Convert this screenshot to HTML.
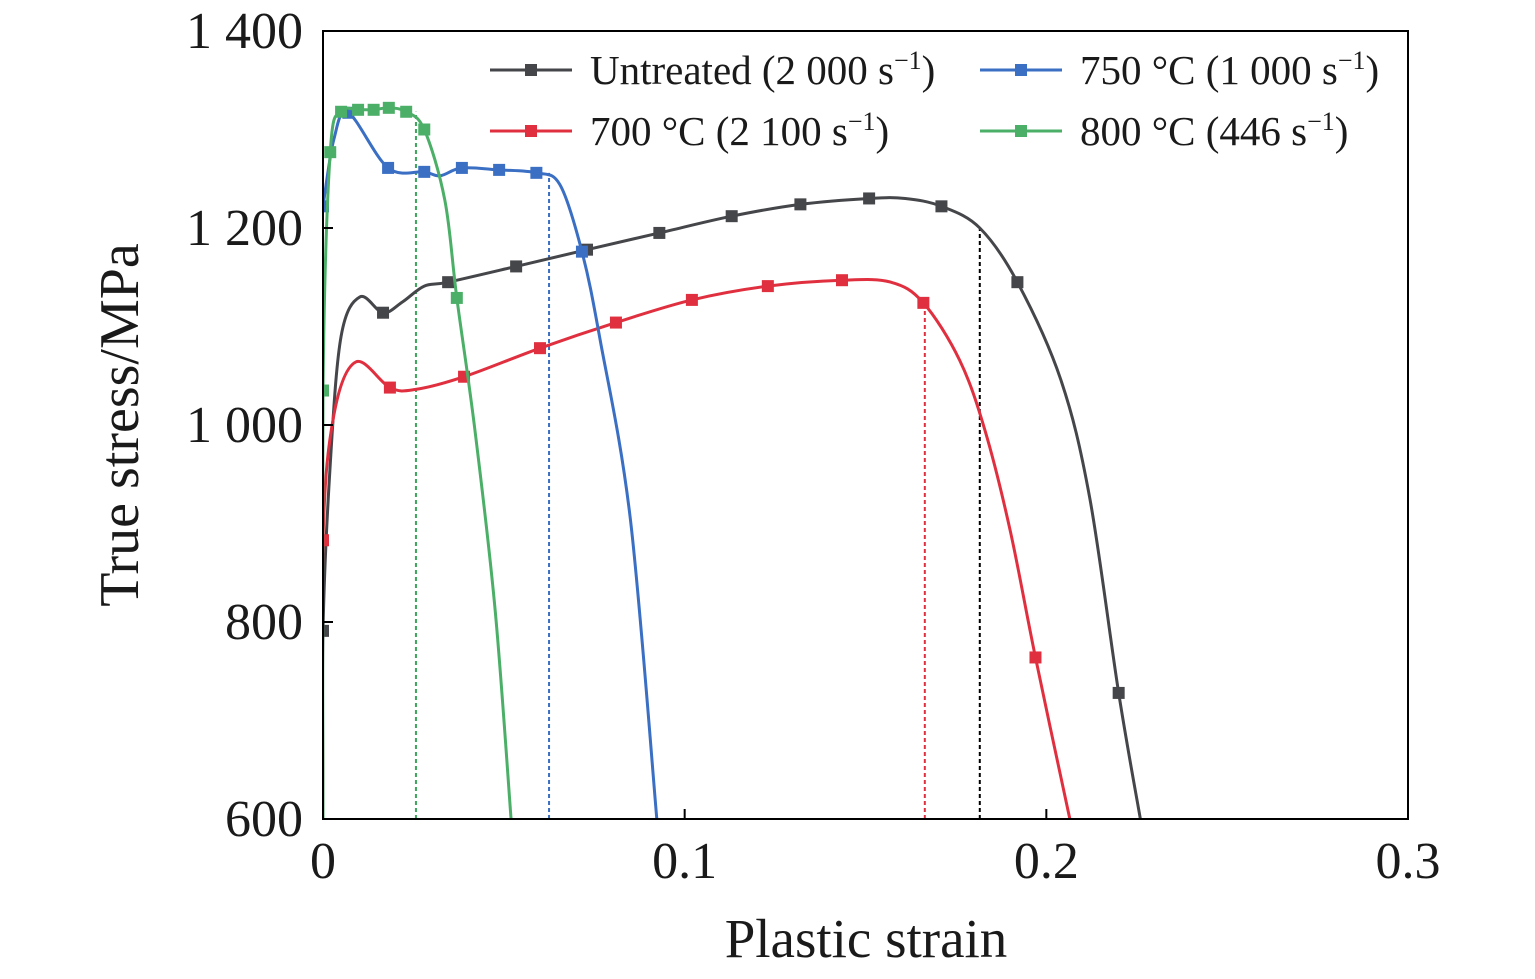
<!DOCTYPE html>
<html><head><meta charset="utf-8"><style>
body{margin:0;background:#fff}
svg text{font-family:"Liberation Serif",serif;fill:#1a1a1a}
</style></head><body>
<svg id="chart" width="1535" height="974" xmlns="http://www.w3.org/2000/svg"></svg>
<script>
const xTicks=[0,0.1,0.2,0.3];
const xTickLabels=["0","0.1","0.2","0.3"];
const yTicks=[600,800,1000,1200,1400];
const yTickLabels=["600","800","1 000","1 200","1 400"];
const untreatedLine=[[0,600],[0,791],[0.002,960],[0.005,1090],[0.0102,1130],[0.0166,1114],[0.022,1125],[0.028,1141],[0.0346,1145],[0.0534,1161],[0.073,1178],[0.093,1195],[0.113,1212],[0.132,1224],[0.151,1230],[0.161,1230],[0.171,1222],[0.1816,1200],[0.192,1145],[0.204,1046],[0.212,926],[0.220,728],[0.226,600]];
const untreatedMarks=[[0,791],[0.0166,1114],[0.0346,1145],[0.0534,1161],[0.073,1178],[0.093,1195],[0.113,1212],[0.132,1224],[0.151,1230],[0.171,1222],[0.192,1145],[0.220,728]];
const red700Line=[[0,600],[0,883],[0.003,1010],[0.0091,1064],[0.0185,1038],[0.0254,1036],[0.039,1049],[0.060,1078],[0.081,1104],[0.102,1127],[0.123,1141],[0.1435,1147],[0.157,1145],[0.166,1124],[0.176,1066],[0.183,995],[0.190,893],[0.197,764],[0.2065,600]];
const red700Marks=[[0,883],[0.0185,1038],[0.039,1049],[0.060,1078],[0.081,1104],[0.102,1127],[0.123,1141],[0.1435,1147],[0.166,1124],[0.197,764]];
const blue750Line=[[0,1222],[0.003,1290],[0.007,1317],[0.018,1261],[0.028,1257],[0.0324,1253],[0.0384,1261],[0.0487,1259],[0.059,1256],[0.0655,1244],[0.0716,1176],[0.0766,1087],[0.085,904],[0.0923,600]];
const blue750Marks=[[0,1222],[0.007,1317],[0.018,1261],[0.028,1257],[0.0384,1261],[0.0487,1259],[0.059,1256],[0.0716,1176]];
const green800Line=[[0,600],[0,1035],[0.002,1277],[0.005,1318],[0.0097,1320],[0.014,1320],[0.0182,1322],[0.023,1318],[0.028,1300],[0.0337,1228],[0.037,1129],[0.042,995],[0.0476,812],[0.052,600]];
const green800Marks=[[0,1035],[0.002,1277],[0.005,1318],[0.0097,1320],[0.014,1320],[0.0182,1322],[0.023,1318],[0.028,1300],[0.037,1129]];
const dashX=[0.1816,0.1664,0.0625,0.0257];
const dashY=[1200,1124,1256,1318];
const seriesNames=["Untreated (2 000 s","750 °C (1 000 s","700 °C (2 100 s","800 °C (446 s"];

const L=323,R=1408,T=31,B=819;
const sx=v=>L+(v-0)/0.3*(R-L);
const sy=v=>B-(v-600)/800*(B-T);
const svg=document.getElementById('chart');
const NS='http://www.w3.org/2000/svg';
function mk(tag,attrs,parent){const e=document.createElementNS(NS,tag);for(const k in attrs)e.setAttribute(k,attrs[k]);(parent||svg).appendChild(e);return e;}
function smooth(pts){
  const p=pts.map(d=>[sx(d[0]),sy(d[1])]);
  let d='M'+p[0][0]+','+p[0][1];
  for(let i=0;i<p.length-1;i++){
    const p0=p[Math.max(0,i-1)],p1=p[i],p2=p[i+1],p3=p[Math.min(p.length-1,i+2)];
    const c1=[p1[0]+(p2[0]-p0[0])/6,p1[1]+(p2[1]-p0[1])/6];
    const c2=[p2[0]-(p3[0]-p1[0])/6,p2[1]-(p3[1]-p1[1])/6];
    d+=` C${c1[0]},${c1[1]} ${c2[0]},${c2[1]} ${p2[0]},${p2[1]}`;
  }
  return d;
}
const clip=mk('clipPath',{id:'pc'});mk('rect',{x:L,y:T,width:R-L,height:B-T},clip);
const colors=['#000000','#e0303f','#3a6fc4','#3aa85a'];
const g=mk('g',{'clip-path':'url(#pc)'});


for(let i=0;i<dashX.length;i++){
  const l=mk('line',{x1:sx(dashX[i]),x2:sx(dashX[i]),y1:B,y2:sy(dashY[i]),stroke:colors[i],'stroke-width':2,'stroke-dasharray':'4,3'},g);
  
  
}
const series=[[untreatedLine,untreatedMarks,'#45464a','untreated'],[red700Line,red700Marks,'#e0303f','700c'],[blue750Line,blue750Marks,'#3a6fc4','750c'],[green800Line,green800Marks,'#4caf68','800c']];
series.forEach(s=>{
  const p=mk('path',{d:smooth(s[0]),fill:'none',stroke:s[2],'stroke-width':3},g);
  
  
  s[1].forEach(m=>{
    const r=mk('rect',{x:sx(m[0])-6,y:sy(m[1])-6,width:12,height:12,fill:s[2]},g);
    
    
  });
});
const frame=mk('rect',{x:L,y:T,width:R-L,height:B-T,fill:'none',stroke:'#000','stroke-width':2});


yTicks.forEach((v,i)=>{
  mk('line',{x1:L,x2:L+10,y1:sy(v),y2:sy(v),stroke:'#000','stroke-width':2});
  const t=mk('text',{x:303,y:sy(v)+17,'text-anchor':'end','font-size':52});
  t.textContent=yTickLabels[i];
  
  
});
xTicks.forEach((v,i)=>{
  mk('line',{x1:sx(v),x2:sx(v),y1:B,y2:B-10,stroke:'#000','stroke-width':2});
  const t=mk('text',{x:sx(v),y:878,'text-anchor':'middle','font-size':52});
  t.textContent=xTickLabels[i];
  
  
});
const xt=mk('text',{x:866,y:957,'text-anchor':'middle','font-size':55});
xt.textContent='Plastic strain';


const yt=mk('text',{x:0,y:0,'text-anchor':'middle','font-size':56,transform:'translate(138,425) rotate(-90)'});
yt.textContent='True stress/MPa';


const leg=[[490,70,'#45464a'],[980,70,'#3a6fc4'],[490,131,'#e0303f'],[980,131,'#4caf68']];
leg.forEach((l,i)=>{
  const lg=mk('g',{});
  
  
  mk('line',{x1:l[0],x2:l[0]+82,y1:l[1],y2:l[1],stroke:l[2],'stroke-width':3},lg);
  mk('rect',{x:l[0]+35,y:l[1]-6,width:12,height:12,fill:l[2]},lg);
  const t=mk('text',{x:l[0]+100,y:l[1]+14,'font-size':41},lg);
  t.textContent=seriesNames[i];
  const sup=mk('tspan',{dy:-15,'font-size':26},t);sup.textContent='−1';
  const cl=mk('tspan',{dy:15},t);cl.textContent=')';
});
</script>
</body></html>
